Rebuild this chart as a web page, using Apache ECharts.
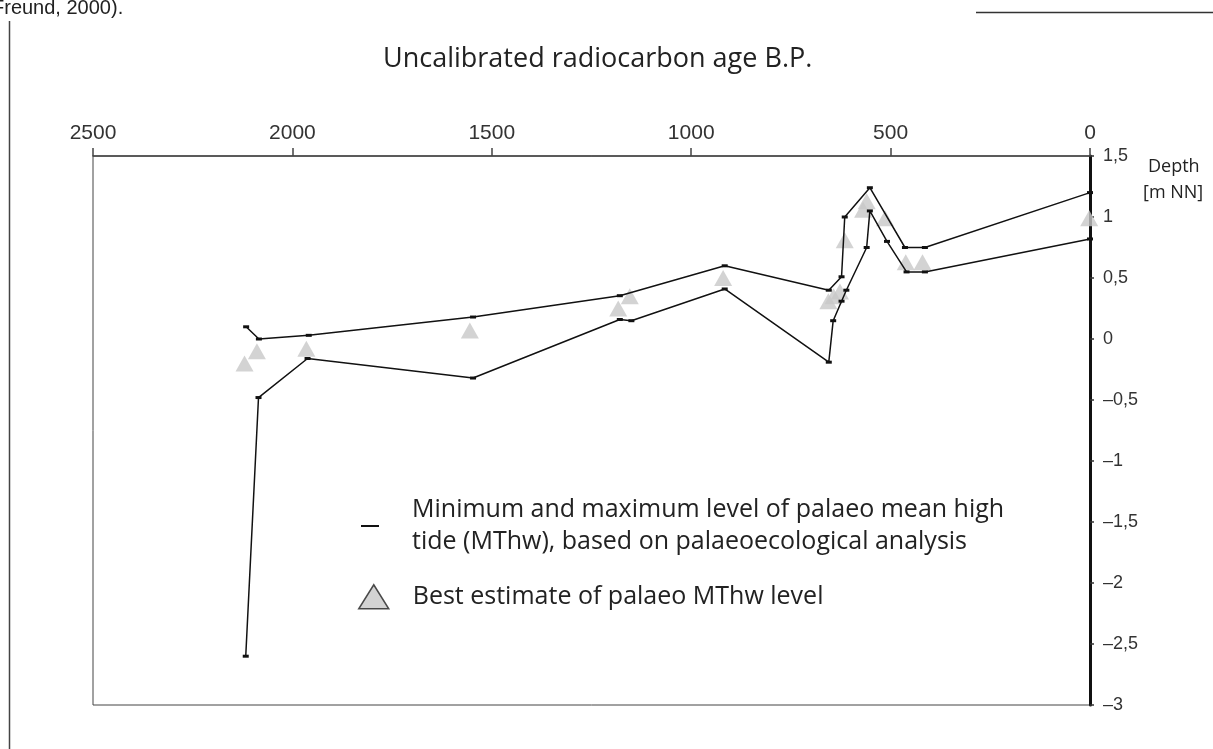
<!DOCTYPE html>
<html>
<head>
<meta charset="utf-8">
<script src="https://cdn.jsdelivr.net/npm/echarts@6/dist/echarts.min.js"></script>
<style>
html, body { margin: 0; padding: 0; background: #fff; }
#chart { width: 1213px; height: 749px; }
</style>
</head>
<body>
<div id="chart"></div>
<script>
// uncalibrated radiocarbon age B.P. / depth [m NN]
var maxAge   = [2116, 2084, 1959, 1547, 1179, 916, 655, 623, 615, 552, 464, 414, 0];
var maxDepth = [0.10, 0.00, 0.03, 0.18, 0.355, 0.60, 0.40, 0.51, 1.00, 1.24, 0.75, 0.75, 1.20];

var minAge   = [2117, 2085, 1962, 1547, 1179, 1150, 916, 655, 644, 623, 611, 560, 552, 509, 460, 414, 0];
var minDepth = [-2.60, -0.48, -0.16, -0.32, 0.16, 0.15, 0.41, -0.19, 0.15, 0.31, 0.40, 0.75, 1.05, 0.80, 0.55, 0.55, 0.82];

var estAge   = [2120, 2089, 1965, 1555, 1183, 1154, 920, 656, 643, 627, 615, 569, 560, 514, 462, 420, 2];
var estDepth = [-0.20, -0.10, -0.08, 0.07, 0.25, 0.35, 0.50, 0.31, 0.35, 0.39, 0.81, 1.06, 1.13, 0.99, 0.63, 0.63, 0.99];

var lineName = 'Minimum and maximum level of palaeo mean high\ntide (MThw), based on palaeoecological analysis';
var estName = 'Best estimate of palaeo MThw level';

function pairs(a, b) {
    return a.map(function (v, i) { return [v, b[i]]; });
}
// 1.5 -> "1,5", -0.5 -> "–0,5"
function depthLabel(v) {
    var s = String(Math.abs(v)).replace('.', ',');
    return v < 0 ? '\u2013' + s : s;
}

var chart = echarts.init(document.getElementById('chart'));

var lineStyle = { color: '#111', width: 1.5 };
var legendFont = { fontFamily: 'Open Sans', fontSize: 25, color: '#222' };

chart.setOption({
    animation: false,
    title: {
        text: 'Uncalibrated radiocarbon age B.P.',
        left: 378,
        top: 41,
        textStyle: { fontFamily: 'Open Sans', fontSize: 27, fontWeight: 'normal', color: '#222' }
    },
    legend: [{
        data: [{ name: lineName, itemStyle: { opacity: 0 } }],
        orient: 'vertical',
        left: 355,
        top: 489,
        itemWidth: 18,
        itemHeight: 10,
        textStyle: Object.assign({ lineHeight: 32, padding: [0, 0, 0, 28] }, legendFont)
    }, {
        data: [{ name: estName, icon: 'triangle', itemStyle: { color: '#c8c8c8', borderColor: '#222', borderWidth: 1.5 } }],
        orient: 'vertical',
        left: 353,
        top: 579,
        itemWidth: 30,
        itemHeight: 24,
        textStyle: Object.assign({ padding: [0, 0, 0, 19] }, legendFont)
    }],
    grid: {
        left: 93, right: 123, top: 156, bottom: 44,
        show: true, borderColor: '#444', borderWidth: 1
    },
    xAxis: {
        type: 'value',
        position: 'top',
        inverse: true,
        min: 0, max: 2500, interval: 500,
        axisLine: { show: true, onZero: false, lineStyle: { color: '#444', width: 1.5 } },
        axisTick: { show: true, length: 8, lineStyle: { color: '#444', width: 1.5 } },
        axisLabel: { margin: 12, fontFamily: 'Liberation Sans', fontSize: 21, color: '#333', formatter: function (v) { return String(v); } },
        splitLine: { show: false }
    },
    yAxis: {
        type: 'value',
        position: 'right',
        min: -3, max: 1.5, interval: 0.5,
        axisLine: { show: true, onZero: false, lineStyle: { color: '#111', width: 3 } },
        axisTick: { show: true, length: 4, lineStyle: { color: '#333', width: 1.5 } },
        axisLabel: { margin: 13, fontFamily: 'Liberation Sans', fontSize: 18, color: '#333', formatter: depthLabel },
        splitLine: { show: false }
    },
    series: [{
        name: estName,
        type: 'scatter',
        z: 1,
        symbol: 'triangle',
        symbolSize: [18, 16],
        itemStyle: { color: '#c8c8c8' },
        data: pairs(estAge, estDepth)
    }, {
        name: lineName,
        type: 'line',
        z: 3,
        symbol: 'rect',
        symbolSize: [6, 3],
        itemStyle: { color: '#111' },
        lineStyle: lineStyle,
        data: pairs(maxAge, maxDepth)
    }, {
        name: lineName,
        type: 'line',
        z: 3,
        symbol: 'rect',
        symbolSize: [6, 3],
        itemStyle: { color: '#111' },
        lineStyle: lineStyle,
        data: pairs(minAge, minDepth)
    }],
    graphic: [{
        type: 'text', left: 1148, top: 158,
        style: { text: 'Depth', font: '18px "Open Sans"', fill: '#222' }
    }, {
        type: 'text', left: 1143, top: 184,
        style: { text: '[m NN]', font: '18px "Open Sans"', fill: '#222' }
    }, {
        type: 'text', left: -8, top: -2,
        style: { text: 'Freund, 2000).', font: '20px "Liberation Sans"', fill: '#222' }
    }, {
        type: 'line',
        shape: { x1: 9.5, y1: 21, x2: 9.5, y2: 749 },
        style: { stroke: '#444', lineWidth: 1.5 }
    }, {
        type: 'line',
        shape: { x1: 976, y1: 12.5, x2: 1213, y2: 12.5 },
        style: { stroke: '#333', lineWidth: 1.5 }
    }]
});
</script>
</body>
</html>
